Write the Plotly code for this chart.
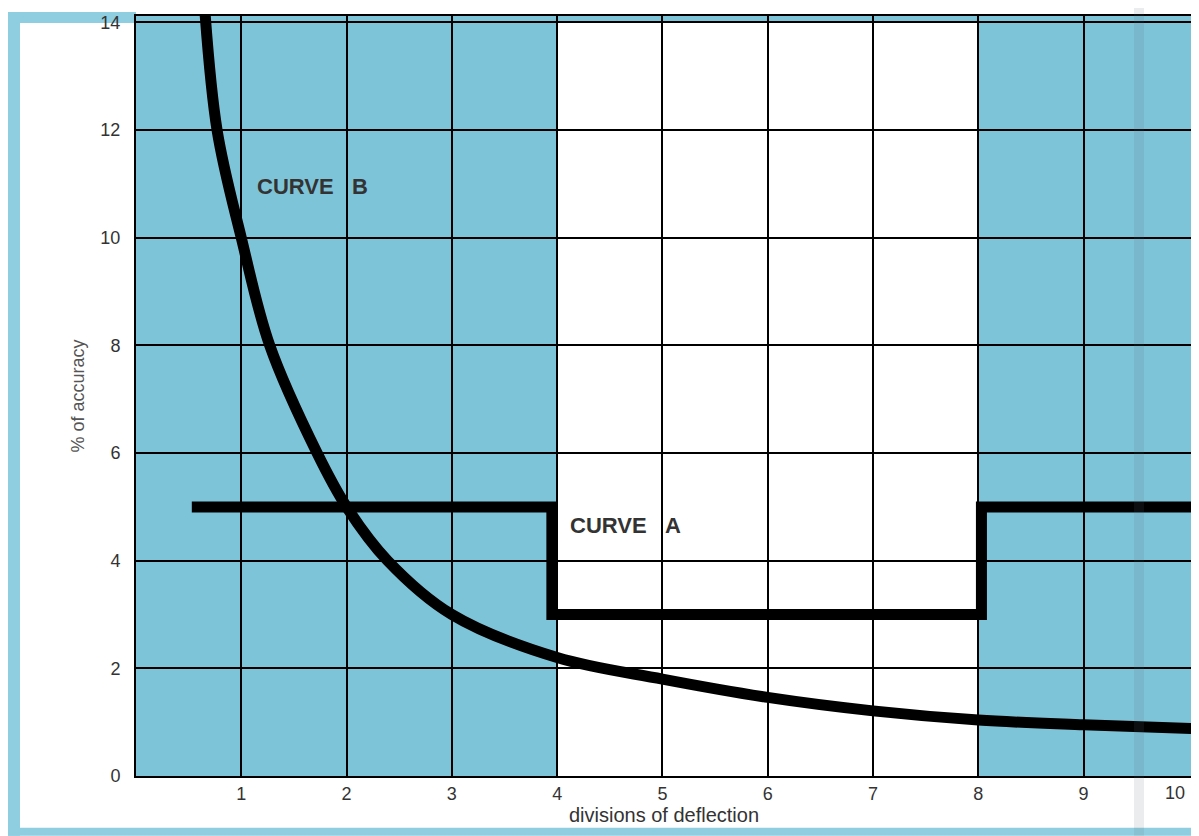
import plotly.graph_objects as go

# ---- data ----
x_ticks = [1, 2, 3, 4, 5, 6, 7, 8, 9, 10]
y_ticks = [0, 2, 4, 6, 8, 10, 12, 14]

# Curve A: step curve (% accuracy vs divisions), drawn with 'hv' steps
curve_a_x = [0.53, 3.95, 8.03, 10.05]
curve_a_y = [5.0, 3.0, 5.0, 5.0]

# Curve B: hyperbolic-like accuracy curve
curve_b_x = [0.64, 0.77, 1.0, 1.27, 1.72, 2.0, 2.39, 3.0, 4.0, 5.0, 6.0, 7.0, 8.0, 9.0, 10.05]
curve_b_y = [14.6, 12.0, 10.0, 8.0, 6.0, 5.0, 4.0, 3.0, 2.2, 1.8, 1.46, 1.21, 1.04, 0.95, 0.88]

# White (unshaded) band of the scale
white_band = [4, 8]

BLUE = "rgb(126,196,217)"
FRAME_BLUE = "rgb(142,206,224)"
INK = "#000000"
TEXT = "#333333"
FONT = "Liberation Sans, Arial, sans-serif"

# page is shown with an 8px body margin, so work in page pixels minus 8
OFF = 8
W, H = 1199 - OFF, 836 - OFF
L, T = 136 - OFF, 13 - OFF
PLOT_R, PLOT_B = 1192 - OFF, 776 - OFF
R, B = W - PLOT_R, H - PLOT_B
PW, PH = PLOT_R - L, PLOT_B - T


def px(xp):
    return (xp - OFF - L) / PW


def py(yp):
    return (PLOT_B - (yp - OFF)) / PH


fig = go.Figure()

fig.add_trace(go.Scatter(
    x=curve_a_x, y=curve_a_y, mode="lines", line_shape="hv",
    line=dict(color=INK, width=11), showlegend=False, hoverinfo="skip"))

fig.add_trace(go.Scatter(
    x=curve_b_x, y=curve_b_y, mode="lines", line_shape="spline",
    line=dict(color=INK, width=11, smoothing=1.0), showlegend=False, hoverinfo="skip"))

shapes = [
    # outer light blue frame strips (page pixel coords)
    dict(type="rect", xref="paper", yref="paper", x0=px(8), x1=px(20), y0=py(9), y1=py(836),
         fillcolor=FRAME_BLUE, line_width=0, layer="below"),
    dict(type="rect", xref="paper", yref="paper", x0=px(8), x1=px(136), y0=py(9), y1=py(20),
         fillcolor=FRAME_BLUE, line_width=0, layer="below"),
    dict(type="rect", xref="paper", yref="paper", x0=px(8), x1=px(1193), y0=py(828), y1=py(836),
         fillcolor=FRAME_BLUE, line_width=0, layer="below"),
    # white band in the plot
    dict(type="rect", xref="x", yref="y", x0=white_band[0], x1=white_band[1], y0=0, y1=14,
         fillcolor="white", line_width=0, layer="below"),
    # page fold shadow
    dict(type="rect", xref="paper", yref="paper", x0=px(1134), x1=px(1144), y0=py(0), y1=py(836),
         fillcolor="rgba(90,110,115,0.13)", line_width=0, layer="above"),
]

annotations = [
    dict(x=1.13, y=10.95, xref="x", yref="y", text="<b>CURVE\u00a0\u00a0\u00a0B</b>", showarrow=False,
         xanchor="left", yanchor="middle", font=dict(size=22, color=TEXT, family=FONT)),
    dict(x=4.10, y=4.66, xref="x", yref="y", text="<b>CURVE\u00a0\u00a0\u00a0A</b>", showarrow=False,
         xanchor="left", yanchor="middle", font=dict(size=22, color=TEXT, family=FONT)),
    # last x tick label sits inside the right edge in the original
    dict(x=x_ticks[-1], y=0, xref="x", yref="paper", text=str(x_ticks[-1]), showarrow=False,
         xanchor="right", yanchor="top", xshift=-2, yshift=-5, font=dict(size=18, color=TEXT, family=FONT)),
]

fig.update_layout(
    width=W, height=H,
    margin=dict(l=L, r=R, t=T, b=B, pad=0),
    paper_bgcolor="white",
    plot_bgcolor=BLUE,
    shapes=shapes,
    annotations=annotations,
    font=dict(family=FONT, color=TEXT),
    xaxis=dict(
        range=[0, 10.03], tickvals=x_ticks[:-1], ticktext=[str(v) for v in x_ticks[:-1]],
        showgrid=True, gridcolor=INK, gridwidth=1.8, zeroline=False,
        showline=True, linecolor=INK, linewidth=2, mirror=True,
        ticks="", tickfont=dict(size=18, color=TEXT),
        title=dict(text="divisions of deflection", font=dict(size=20, color=TEXT), standoff=0),
        fixedrange=True,
    ),
    yaxis=dict(
        range=[0, 14.12], tickvals=y_ticks, ticktext=[str(v) for v in y_ticks],
        showgrid=True, gridcolor=INK, gridwidth=1.8, zeroline=False,
        showline=True, linecolor=INK, linewidth=2, mirror=True,
        ticks="outside", ticklen=10, tickcolor="rgba(0,0,0,0)",
        tickfont=dict(size=18, color=TEXT),
        title=dict(text="% of accuracy", font=dict(size=18, color="#555555"), standoff=11),
        fixedrange=True,
    ),
)

fig.write_html("out.html")
